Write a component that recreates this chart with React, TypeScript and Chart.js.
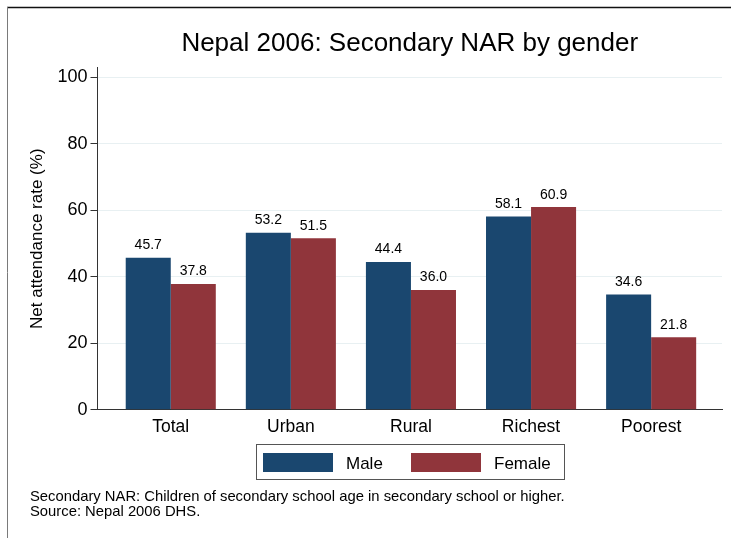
import React, { useEffect, useRef } from 'react';
import { Chart, registerables } from 'chart.js';

Chart.register(...registerables);

const categories = ['Total', 'Urban', 'Rural', 'Richest', 'Poorest'];
const maleValues = [45.7, 53.2, 44.4, 58.1, 34.6];
const femaleValues = [37.8, 51.5, 36.0, 60.9, 21.8];
const yTicks = [0, 20, 40, 60, 80, 100];
const seriesNames = ['Male', 'Female'];
const titleText = 'Nepal 2006: Secondary NAR by gender';
const yAxisTitle = 'Net attendance rate (%)';
const noteLines = [
  'Secondary NAR: Children of secondary school age in secondary school or higher.',
  'Source: Nepal 2006 DHS.',
];

const FONT = '"Liberation Sans", Arial, Helvetica, sans-serif';
const MALE = '#1a476f';
const FEMALE = '#90353b';

const decor = {
  id: 'decor',
  beforeDraw(chart: any) {
    const ctx = chart.ctx;
    ctx.save();
    ctx.fillStyle = '#ffffff';
    ctx.fillRect(0, 0, chart.width, chart.height);
    ctx.restore();
  },
  afterDraw(chart: any) {
    const { ctx, chartArea } = chart;
    ctx.save();
    // outer frame lines
    ctx.strokeStyle = '#111111';
    ctx.lineWidth = 1.5;
    ctx.beginPath();
    ctx.moveTo(7, 7.5);
    ctx.lineTo(chart.width, 7.5);
    ctx.stroke();
    ctx.strokeStyle = '#7a7a7a';
    ctx.lineWidth = 1;
    ctx.beginPath();
    ctx.moveTo(7.5, 7);
    ctx.lineTo(7.5, chart.height);
    ctx.stroke();

    // title
    const cx = (chartArea.left + chartArea.right) / 2;
    ctx.fillStyle = '#000000';
    ctx.font = `26px ${FONT}`;
    ctx.textAlign = 'center';
    ctx.textBaseline = 'alphabetic';
    ctx.fillText(titleText, cx, 51);

    // value labels
    ctx.font = `14px ${FONT}`;
    chart.data.datasets.forEach((ds: any, di: number) => {
      const meta = chart.getDatasetMeta(di);
      meta.data.forEach((el: any, i: number) => {
        const v = ds.data[i].y as number;
        ctx.fillText(v.toFixed(1), el.x, el.y - 8.5);
      });
    });

    // legend
    const lw = 308;
    const lx = Math.round(cx - lw / 2) + 0.5;
    const ly = 444.5;
    ctx.strokeStyle = '#555555';
    ctx.lineWidth = 1;
    ctx.strokeRect(lx, ly, lw, 35);
    ctx.font = `17px ${FONT}`;
    ctx.textAlign = 'left';
    const offsets = [0, 148];
    chart.data.datasets.forEach((ds: any, di: number) => {
      const sx = lx + 6.5 + offsets[di];
      ctx.fillStyle = ds.backgroundColor;
      ctx.fillRect(sx, 453, 70, 19);
      ctx.fillStyle = '#000000';
      ctx.fillText(ds.label, sx + 83, 468.5);
    });

    // notes
    ctx.font = `14.8px ${FONT}`;
    ctx.fillStyle = '#000000';
    noteLines.forEach((line, i) => {
      ctx.fillText(line, 30, 501 + i * 15);
    });
    ctx.restore();
  },
};

export default function App() {
  const ref = useRef<HTMLCanvasElement | null>(null);

  useEffect(() => {
    if (!ref.current) return;
    const chart = new Chart(ref.current, {
      type: 'bar',
      data: {
        datasets: [
          {
            label: seriesNames[0],
            data: maleValues.map((v, i) => ({ x: i, y: v })),
            backgroundColor: MALE,
            borderWidth: 0,
          },
          {
            label: seriesNames[1],
            data: femaleValues.map((v, i) => ({ x: i, y: v })),
            backgroundColor: FEMALE,
            borderWidth: 0,
          },
        ],
      },
      options: {
        responsive: false,
        animation: false,
        devicePixelRatio: 1,
        layout: { padding: { top: 67.7, right: 9, bottom: 98.3, left: 0 } },
        datasets: { bar: { categoryPercentage: 0.75, barPercentage: 1 } },
        plugins: {
          legend: { display: false },
          tooltip: { enabled: false },
          title: { display: false },
        },
        scales: {
          x: {
            type: 'linear',
            min: -0.61,
            max: 4.59,
            offset: false,
            afterBuildTicks: (s: any) => {
              s.ticks = categories.map((_, i) => ({ value: i }));
            },
            afterFit: (s: any) => {
              s.height = 30;
            },
            grid: { display: true, offset: false, drawOnChartArea: false, drawTicks: false },
            border: { display: true, color: '#333333', width: 1 },
            ticks: {
              callback: (v: any) => categories[v as number] ?? '',
              font: { size: 17.5, family: FONT },
              color: '#000000',
              padding: 7,
              autoSkip: false,
              maxRotation: 0,
            },
          },
          y: {
            type: 'linear',
            min: 0,
            max: 102.8,
            afterBuildTicks: (s: any) => {
              s.ticks = yTicks.map((v) => ({ value: v }));
            },
            afterFit: (s: any) => {
              s.width = 97.5;
            },
            grid: { color: '#e8f0f2', tickColor: '#333333', tickLength: 7, lineWidth: 1 },
            border: { color: '#333333', width: 1 },
            ticks: { font: { size: 18, family: FONT }, color: '#000000', padding: 3 },
            title: {
              display: true,
              text: yAxisTitle,
              font: { size: 17, family: FONT },
              color: '#000000',
              padding: { top: 27, bottom: 0 },
            },
          },
        },
      },
      plugins: [decor],
    } as any);
    return () => chart.destroy();
  }, []);

  return (
    <div style={{ position: 'absolute', left: 0, top: 0, width: 731, height: 538, background: '#ffffff' }}>
      <canvas ref={ref} width={731} height={538} />
    </div>
  );
}
